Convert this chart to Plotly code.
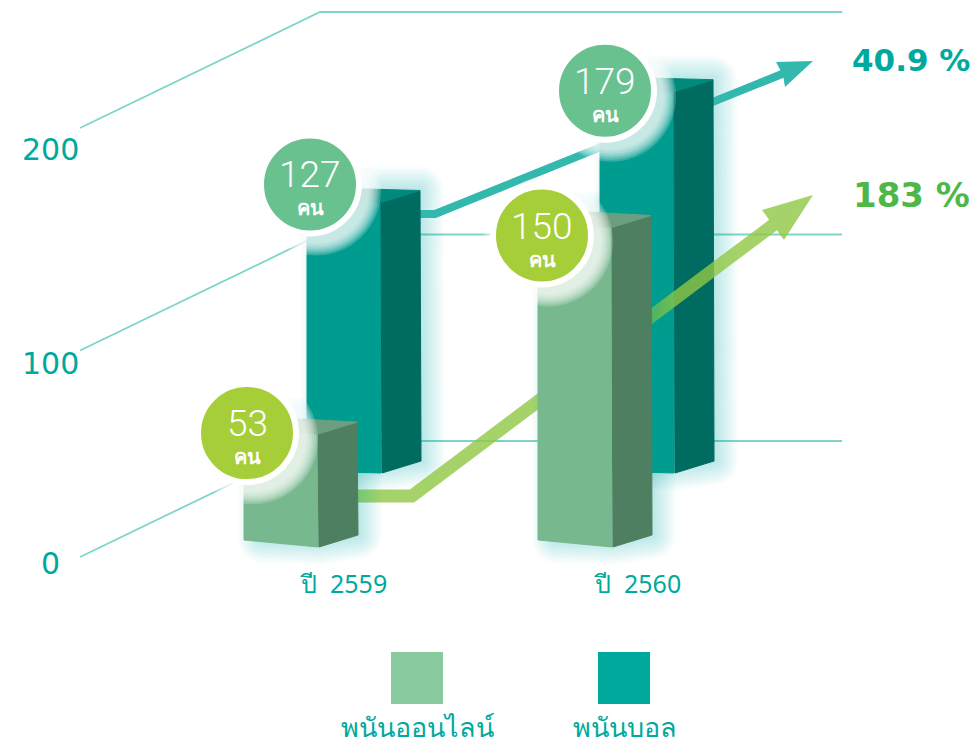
import math
import plotly.graph_objects as go

# ---- data -------------------------------------------------------------
categories = ["ปี\u00a0\u00a02559", "ปี\u00a0\u00a02560"]
online_bets = [53, 150]
ball_bets = [127, 179]
series_names = ["พนันออนไลน์", "พนันบอล"]
axis_ticks = [0, 100, 200]
growth_labels = ["40.9 %", "183 %"]
unit_label = "คน"

# ---- layout constants --------------------------------------------------
W, H = 979, 745
K = 2.13            # pixels per value unit
ZERO_PX = 547       # pixel row of value 0 at the front row of bars
def yv(px):         # pixel row -> axis value
    return (ZERO_PX - px) / K
def up(px):         # pixel height -> axis units
    return px / K

TEAL = dict(front="#009C8F", side="#006B60", top="#008A7C", base=473, lift=2, toplift=2)
GREEN = dict(front="#77B88E", side="#4E7F60", top="#6C9F80", base=547, lift=7, toplift=4)
BAR_W, DX, DY = 74, 39, 12
TEAL_LEFT = [307, 600]
GREEN_LEFT = [244, 538]
CIRCLE_NUDGE_TEAL = [(3, -18), (5, -1)]
CIRCLE_NUDGE_GREEN = [(3, -1), (4, 8)]

fig = go.Figure()

def poly(xs, ys, fill, outline=False):
    fig.add_trace(go.Scatter(
        x=xs + xs[:1], y=ys + ys[:1], mode="lines", fill="toself", fillcolor=fill,
        line=dict(color=fill if outline else "rgba(0,0,0,0)", width=1 if outline else 0),
        hoverinfo="skip", showlegend=False))

def hull(points):
    pts = sorted(set(points))
    def half(seq):
        out = []
        for p in seq:
            while len(out) >= 2 and ((out[-1][0] - out[-2][0]) * (p[1] - out[-2][1])
                                     - (out[-1][1] - out[-2][1]) * (p[0] - out[-2][0])) <= 0:
                out.pop()
            out.append(p)
        return out[:-1]
    return half(pts) + half(pts[::-1])

def glow(x0, value, st):
    b = yv(st["base"])
    top = b + value
    x1 = x0 + BAR_W
    dy = up(DY)
    core = [(x0 + 18, top), (x0 + DX, top + dy), (x1 + DX, top + dy),
            (x1 + DX + 1, b + dy), (x1, b + up(6)), (x0 + 18, b + up(8))]
    for r in range(2, 26, 2):
        pts = []
        for cx, cy in core:
            for a in range(0, 360, 20):
                t = math.radians(a)
                pts.append((cx + r * math.cos(t), cy + up(r) * math.sin(t)))
        h = hull(pts)
        poly([p[0] for p in h], [p[1] for p in h], "rgba(0,169,157,0.025)")

def bar(x0, value, st):
    b = yv(st["base"])
    top = b + value
    x1 = x0 + BAR_W
    lift, tl = up(st["lift"]), up(st["toplift"])
    dy = up(DY)
    poly([x0, x1, x1, x0], [b + lift, b, top, top + tl], st["front"], True)
    poly([x1, x1 + DX, x1 + DX + 1, x1 + 1], [top, top + dy, b + dy, b], st["side"], True)
    poly([x0, x1, x1 + DX, x0 + DX], [top + tl, top, top + dy, top + tl + dy], st["top"], True)

def ribbon(pts, width, barb_a, barb_b, tip, fill):
    """thick polyline with arrow head, built in pixels, converted to axis units"""
    up_side, dn_side = [], []
    n = len(pts)
    for i, (x, y) in enumerate(pts):
        dirs = []
        if i > 0:
            dirs.append((x - pts[i - 1][0], y - pts[i - 1][1]))
        if i < n - 1:
            dirs.append((pts[i + 1][0] - x, pts[i + 1][1] - y))
        units = [(a / math.hypot(a, b), b / math.hypot(a, b)) for a, b in dirs]
        nx = sum(-u[1] for u in units) / len(units)
        ny = sum(u[0] for u in units) / len(units)
        s = width / 2 / math.hypot(nx, ny) ** 2
        up_side.append((x + nx * s, y + ny * s))
        dn_side.append((x - nx * s, y - ny * s))
    path = dn_side + [barb_a, tip, barb_b] + up_side[::-1]
    poly([p[0] for p in path], [yv(p[1]) for p in path], fill)

# ---- grid -------------------------------------------------------------
GRID_COLOR = "#7FD4CA"
GRID_NUDGE = [0, 8, 0]
for g, nudge in zip(axis_ticks, GRID_NUDGE):
    wall = yv(441) + g * 429 / 200 / K - up(nudge)
    fig.add_trace(go.Scatter(
        x=[80, 320, 842], y=[wall - up(116), wall, wall], mode="lines",
        line=dict(color=GRID_COLOR, width=1.8), hoverinfo="skip", showlegend=False))

# ---- back row, teal ---------------------------------------------------
for x0, v in zip(TEAL_LEFT, ball_bets):
    glow(x0, v, TEAL)
ribbon([(300, 214), (435, 214), (782, 74)], 8, (776, 62), (785, 87), (813, 61), "#33B8AE")
for x0, v in zip(TEAL_LEFT, ball_bets):
    bar(x0, v, TEAL)

# ---- front row, green -------------------------------------------------
ribbon([(300, 496), (412, 496), (773, 225)], 13, (762, 210), (784, 240), (813, 195),
       "rgba(142,200,69,0.8)")
for x0, v in zip(GREEN_LEFT, online_bets):
    glow(x0, v, GREEN)
for x0, v in zip(GREEN_LEFT, online_bets):
    bar(x0, v, GREEN)

# ---- value badges -----------------------------------------------------
NUM_FONT = dict(family="Roboto", color="white", size=37, weight=300)
UNIT_FONT = dict(family="Noto Sans, DejaVu Sans", color="white", size=20, weight=600)
anns = []
def badge(x0, v, st, nudge, color):
    cx = x0 + nudge[0]
    cy_val = yv(st["base"]) + v - up(nudge[1])
    for d in range(130, 102, -4):
        fig.add_trace(go.Scatter(
            x=[cx + 6], y=[cy_val - up(6)], mode="markers",
            marker=dict(size=d, color="rgba(255,255,255,0.2)", line=dict(width=0)),
            hoverinfo="skip", showlegend=False))
    fig.add_trace(go.Scatter(
        x=[cx], y=[cy_val], mode="markers",
        marker=dict(size=98, color=color, line=dict(color="white", width=6)),
        hoverinfo="skip", showlegend=False))
    anns.append(dict(x=cx, y=cy_val + up(10), text=str(v), font=NUM_FONT, showarrow=False,
                     height=32))
    anns.append(dict(x=cx, y=cy_val - up(23), text=unit_label, font=UNIT_FONT, showarrow=False,
                     height=22))

for x0, v, n in zip(TEAL_LEFT, ball_bets, CIRCLE_NUDGE_TEAL):
    badge(x0, v, TEAL, n, "#69C18F")
for x0, v, n in zip(GREEN_LEFT, online_bets, CIRCLE_NUDGE_GREEN):
    badge(x0, v, GREEN, n, "#A6CE39")

# ---- axis labels, categories, growth ----------------------------------
TXT = "#00A99D"
for tick, row in zip(axis_ticks, [563, 363, 149]):
    anns.append(dict(x=50, y=yv(row), text=str(tick), showarrow=False,
                     font=dict(family="DejaVu Sans", size=30, color=TXT)))
for cat, cx in zip(categories, [343, 637]):
    anns.append(dict(x=cx, y=yv(583), text=cat, showarrow=False,
                     font=dict(family="Noto Sans, DejaVu Sans", size=25, color=TXT)))
for lab, row, size, col in zip(growth_labels, [60, 195], [31, 34], [TXT, "#4DB848"]):
    anns.append(dict(x=972, y=yv(row), text=f"<b>{lab}</b>", showarrow=False, xanchor="right",
                     font=dict(family="DejaVu Sans", size=size, color=col)))

# ---- legend -----------------------------------------------------------
for name, sq, lab, col in zip(series_names, [417, 624], [418, 625], ["#88CA9D", "#00A99D"]):
    fig.add_trace(go.Scatter(
        x=[sq], y=[yv(678)], mode="markers",
        marker=dict(symbol="square", size=52, color=col, line=dict(width=0)),
        hoverinfo="skip", showlegend=False))
    anns.append(dict(x=lab, y=yv(726), text=name, showarrow=False,
                     font=dict(family="Noto Sans, DejaVu Sans", size=27, color=TXT)))

fig.update_layout(
    width=W, height=H, margin=dict(l=0, r=0, t=0, b=0),
    paper_bgcolor="white", plot_bgcolor="white", showlegend=False,
    annotations=anns,
    xaxis=dict(range=[0, W], visible=False, fixedrange=True),
    yaxis=dict(range=[yv(H), yv(0)], visible=False, fixedrange=True),
)
fig.write_html("out.html", config={"displayModeBar": False},
               post_script="document.body.style.margin='0';")
